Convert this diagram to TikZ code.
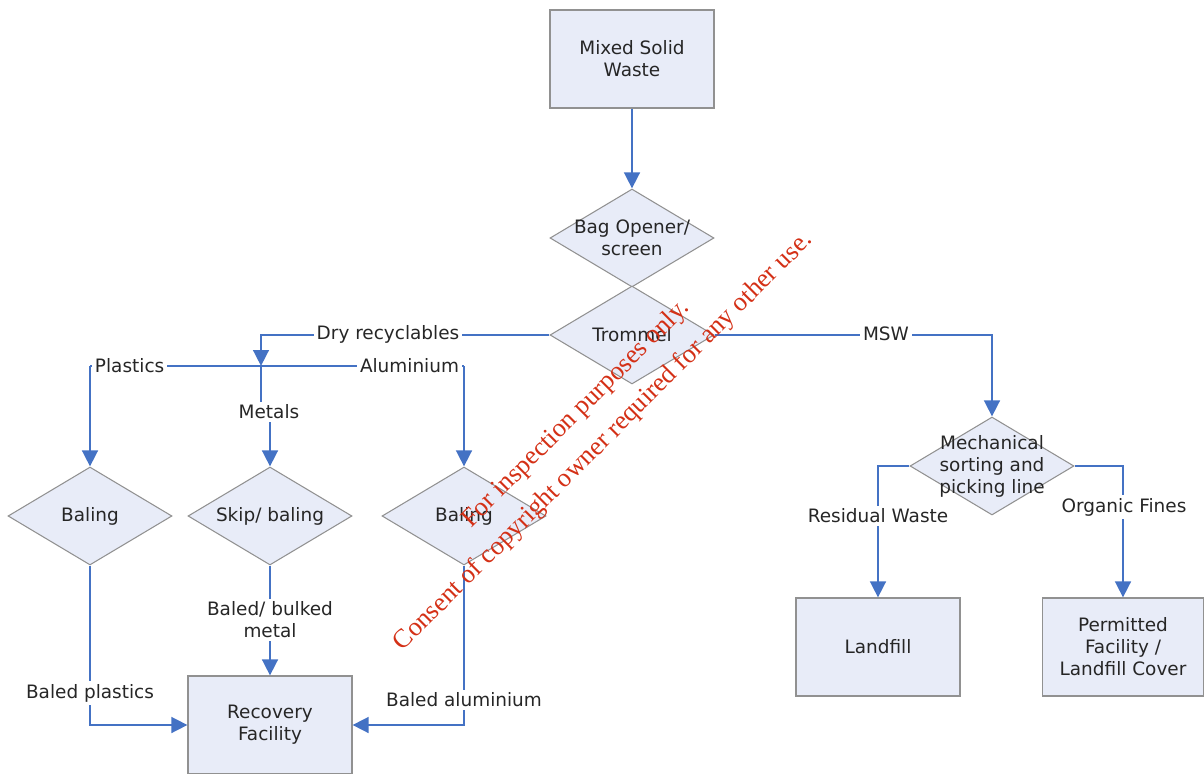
\documentclass[tikz,border=0pt]{standalone}
\usepackage{fontspec}
\setmainfont{DejaVu Sans}
\newfontfamily\wmfont{Liberation Serif}
\usetikzlibrary{positioning, arrows.meta, shapes.geometric}
\definecolor{flowblue}{RGB}{68,114,196}
\definecolor{boxfill}{RGB}{232,236,248}
\definecolor{boxline}{RGB}{145,145,145}
\definecolor{wmred}{RGB}{212,48,22}

\begin{document}
\begin{tikzpicture}
		[x=0.02cm, y=-0.02cm, >={Triangle[length=0.32cm,width=0.31cm]},
		font=\fontsize{10.5}{12.5}\selectfont,
		box/.style={rectangle, draw=boxline, fill=boxfill, line width=0.6pt, minimum width=3.28cm, minimum height=1.96cm, align=center, text=black!85},
		dia/.style={diamond, draw=boxline, fill=boxfill, line width=0.6pt, minimum width=3.28cm, minimum height=1.96cm, inner sep=0pt, label={[align=center, text=black!85]center:#1}},
		lab/.style={fill=white, inner sep=1.5pt, align=center, text=black!85},
		flow/.style={draw=flowblue, line width=1.6pt}]
		\useasboundingbox (0,0) rectangle (1204,774);
		
		\node[box] (r0) at (632,59) {Mixed Solid\\Waste};
		\node[dia={Bag Opener/\\screen}] (r1) at (632,238) {};
		\node[dia={Trommel}] (r2) at (632,335) {};
		\node[dia={Baling}] (r3) at (90,516) {};
		\node[dia={Skip/ baling}] (r4) at (270,516) {};
		\node[dia={Baling}] (r5) at (464,516) {};
		\node[box] (r6) at (270,725) {Recovery\\Facility};
		\node[dia={Mechanical\\sorting and\\picking line}] (r7) at (992,466) {};
		\node[box] (r8) at (878,647) {Landfill};
		\node[box, minimum width=3.22cm] (r9) at (1123,647) {Permitted\\Facility /\\Landfill Cover};
		
		\coordinate (dj) at (261,366);
		\coordinate (pj) at (90,366);
		\coordinate (aj) at (464,366);
		\node[lab] (l2) at (269,412) {Metals};
		\node[lab] (l5) at (270,620) {Baled/ bulked\\metal};
		
		\draw[flow,->] (r0) -- (r1);
		\draw[flow,->] (r2.west) -| (dj);
		\draw[flow] (pj) -- (aj);
		\draw[flow,->] (pj) -- (r3.north);
		\draw[flow,->] (aj) -- (r5.north);
		\draw[flow] (dj) -- (dj |- l2.north);
		\draw[flow,->] (l2.south -| r4.north) -- (r4.north);
		\draw[flow,->] (r3.south) |- (r6.west);
		\draw[flow] (r4.south) -- (l5.north);
		\draw[flow,->] (l5.south) -- (r6.north);
		\draw[flow,->] (r5.south) |- (r6.east);
		\draw[flow,->] (r2.east) -| (r7.north);
		\draw[flow,->] (r7.west) -| (r8.north);
		\draw[flow,->] (r7.east) -| (r9.north);
		
		\node[lab] (l0) at (388,334) {Dry recyclables};
		\node[lab, anchor=west] (l1) at (92,366) {Plastics};
		\node[lab, anchor=east] (l3) at (462,366) {Aluminium};
		\node[lab] (l4) at (90,693) {Baled plastics};
		\node[lab] (l6) at (464,700) {Baled aluminium};
		\node[lab] (l7) at (886,334) {MSW};
		\node[lab] (l8) at (878,516) {Residual Waste};
		\node[lab] (l9) at (1124,507) {Organic Fines};
		
		\node[text=wmred, font=\wmfont\fontsize{15}{22}\selectfont, rotate=45, align=center] (wm) at (590,428)
		{For inspection purposes only.\\Consent of copyright owner required for any other use.};
		
	\end{tikzpicture}
\end{document}
